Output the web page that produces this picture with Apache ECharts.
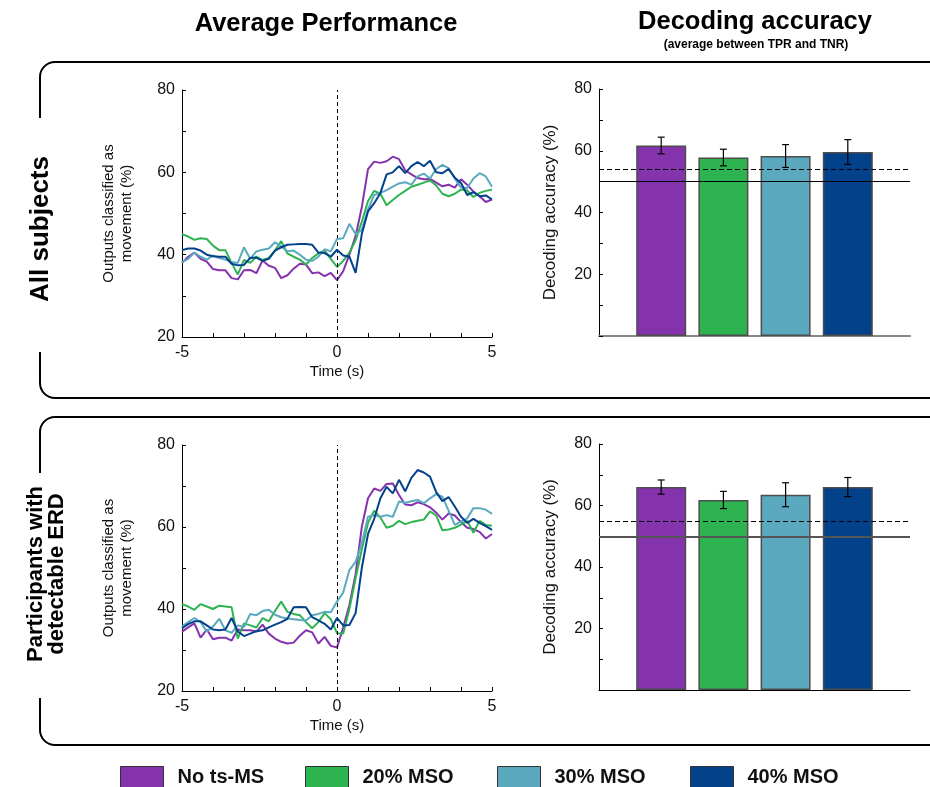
<!DOCTYPE html>
<html>
<head>
<meta charset="utf-8">
<title>Average performance and decoding accuracy</title>
<script src="https://cdn.jsdelivr.net/npm/echarts@6/dist/echarts.min.js"></script>
<style>
  html, body { margin: 0; padding: 0; background: #fff; }
  #chart { width: 930px; height: 787px; }
</style>
</head>
<body>
<div id="chart"></div>
<script>
// ---- data ----------------------------------------------------------------
const groupNames = ['No ts-MS', '20% MSO', '30% MSO', '40% MSO'];
const groupColors = ['#8532ad', '#2db34f', '#5aa9bf', '#03428b'];

// time axis of the averaged outputs (s)
const timeS = [-5, -4.8, -4.6, -4.4, -4.2, -4, -3.8, -3.6, -3.4, -3.2,
  -3, -2.8, -2.6, -2.4, -2.2, -2, -1.8, -1.6, -1.4, -1.2,
  -1, -0.8, -0.6, -0.4, -0.2, 0, 0.2, 0.4, 0.6, 0.8,
  1, 1.2, 1.4, 1.6, 1.8, 2, 2.2, 2.4, 2.6, 2.8,
  3, 3.2, 3.4, 3.6, 3.8, 4, 4.2, 4.4, 4.6, 4.8, 5];

// All subjects: outputs classified as movement (%)
const allNoTs = [38.0, 39.5, 40.5, 39.0, 38.3, 36.5, 36.2, 36.2, 34.3, 34.0,
  36.2, 36.3, 35.5, 38.6, 37.3, 36.8, 34.3, 35.0, 36.6, 37.8,
  37.6, 35.5, 35.7, 34.8, 35.6, 33.8, 36.0, 40.0, 44.5, 51.5,
  60.8, 62.6, 62.3, 62.7, 63.8, 63.2, 60.5, 59.5, 58.6, 58.3,
  58.4, 57.5, 56.6, 57.0, 56.3, 58.3, 57.0, 55.3, 54.2, 52.8, 53.4];
const allMso20 = [45.0, 44.4, 43.6, 44.0, 43.8, 42.2, 41.1, 41.1, 38.0, 35.2,
  38.7, 38.0, 39.5, 38.7, 39.2, 41.0, 43.3, 40.3, 39.5, 38.8,
  37.6, 39.2, 40.3, 41.0, 39.0, 37.0, 38.5, 40.5, 43.5, 48.0,
  53.0, 55.5, 54.8, 52.0, 53.3, 54.5, 55.5, 56.5, 57.0, 57.5,
  58.0, 56.8, 54.8, 54.2, 54.8, 55.8, 55.6, 54.0, 55.0, 55.5, 55.8];
const allMso30 = [38.2, 39.0, 40.5, 39.5, 38.8, 39.8, 39.2, 38.8, 38.2, 38.0,
  41.8, 39.0, 40.8, 41.2, 41.5, 43.0, 42.0, 40.8, 41.0, 40.0,
  38.8, 38.5, 39.5, 41.3, 40.8, 43.8, 44.0, 47.5, 45.0, 46.0,
  51.0, 54.5, 55.0, 55.7, 56.5, 57.3, 57.6, 57.0, 59.0, 59.7,
  58.5, 60.8, 61.8, 61.0, 58.5, 56.3, 56.2, 58.5, 59.8, 59.0, 56.5];
const allMso40 = [41.1, 41.5, 41.5, 41.0, 40.0, 39.6, 39.5, 39.5, 37.8, 37.4,
  37.5, 39.2, 39.3, 38.5, 39.0, 41.0, 41.8, 42.4, 42.5, 42.6,
  42.6, 42.4, 40.5, 40.4, 39.5, 41.2, 39.8, 39.5, 35.6, 45.0,
  50.5, 52.5, 55.0, 59.5, 60.0, 61.5, 59.8, 61.5, 62.5, 61.5,
  62.8, 60.0, 59.8, 60.8, 58.7, 57.4, 54.5, 55.2, 54.2, 54.4, 53.4];

// Participants with detectable ERD: outputs classified as movement (%)
const erdNoTs = [34.5, 35.5, 36.5, 33.0, 35.0, 32.6, 33.0, 33.0, 32.3, 35.0,
  34.8, 34.8, 34.5, 36.2, 34.0, 32.8, 32.0, 31.6, 31.8, 33.5,
  34.8, 34.3, 31.6, 33.2, 31.0, 30.6, 35.5, 41.0, 48.5, 60.0,
  67.0, 69.4, 68.8, 70.5, 70.6, 67.8, 65.5, 65.3, 66.0, 65.6,
  64.8, 63.5, 61.8, 63.3, 62.8, 61.2, 59.8, 59.5, 58.8, 57.2, 58.3];
const erdMso20 = [41.2, 40.6, 39.8, 41.2, 40.6, 40.0, 40.8, 40.6, 40.4, 32.8,
  36.5, 36.0, 35.5, 37.8, 37.0, 39.5, 41.8, 39.3, 38.8, 38.5,
  36.8, 35.3, 36.8, 39.0, 37.5, 34.1, 34.0, 40.0, 47.5, 54.5,
  61.0, 64.0, 62.3, 59.8, 60.3, 61.5, 60.7, 61.2, 61.5, 61.8,
  63.8, 62.8, 59.2, 59.4, 59.8, 60.6, 61.5, 58.6, 61.5, 60.5, 60.3];
const erdMso30 = [35.7, 36.8, 37.8, 36.8, 34.5, 35.7, 37.6, 34.8, 34.2, 36.0,
  35.6, 38.8, 38.5, 39.5, 39.8, 38.6, 38.0, 37.7, 37.5, 37.3,
  37.2, 38.5, 38.8, 39.3, 39.2, 41.8, 44.0, 49.5, 51.5, 56.0,
  62.5, 62.9, 62.5, 62.9, 62.5, 66.2, 65.9, 66.3, 66.6, 65.8,
  67.0, 68.0, 67.4, 64.0, 60.5, 61.3, 62.1, 64.6, 64.6, 64.2, 63.2];
const erdMso40 = [35.3, 36.3, 37.0, 37.0, 36.0, 35.0, 34.8, 35.0, 37.8, 34.5,
  33.4, 34.0, 34.6, 34.8, 35.5, 36.2, 36.8, 37.6, 40.4, 40.5,
  40.4, 38.0, 37.2, 36.4, 35.0, 37.8, 36.0, 36.1, 39.0, 50.0,
  58.3, 62.0, 67.0, 69.8, 68.2, 71.5, 68.7, 72.0, 73.9, 73.3,
  72.3, 68.5, 66.3, 67.3, 65.0, 62.5, 61.0, 62.0, 61.0, 60.2, 59.3];

// Decoding accuracy (%): mean and error per condition
const barPositions = [1, 2, 3, 4];
const allAccMean = [61.7, 57.8, 58.3, 59.6];
const allAccErr = [2.7, 2.7, 3.7, 4.0];
const erdAccMean = [66.0, 61.8, 63.5, 66.0];
const erdAccErr = [2.3, 2.8, 3.9, 3.1];
const allChance = 50, allThreshold = 54;
const erdChance = 50, erdThreshold = 55;

// tick labels
const timeTickLabels = [-5, 0, 5];
const outputTickLabels = [20, 40, 60, 80];
const accTickLabels = [20, 40, 60, 80];

// ---- helpers ---------------------------------------------------------------
const FONT = "'Liberation Sans', Arial, sans-serif";
const INK = '#111';

function timeSeries(values, gridIdx, colorIdx, withZeroLine) {
  const s = {
    type: 'line',
    name: groupNames[colorIdx],
    xAxisIndex: gridIdx, yAxisIndex: gridIdx,
    data: timeS.map((t, i) => [t, values[i]]),
    showSymbol: false,
    color: groupColors[colorIdx],
    itemStyle: { color: groupColors[colorIdx] },
    lineStyle: { width: 2, color: groupColors[colorIdx] },
    z: 3 + colorIdx
  };
  if (withZeroLine) {
    s.markLine = {
      silent: true, symbol: 'none', animation: false,
      label: { show: false },
      lineStyle: { color: '#000', type: [4, 3], width: 1 },
      data: [{ xAxis: 0 }]
    };
  }
  return s;
}

function barSeries(means, gridIdx, chance, threshold, chanceStyle) {
  return {
    type: 'bar',
    name: 'accuracy-' + gridIdx,
    xAxisIndex: gridIdx, yAxisIndex: gridIdx,
    barWidth: 50,
    data: barPositions.map((x, i) => ({
      value: [x, means[i]],
      itemStyle: { color: groupColors[i] }
    })),
    itemStyle: { borderColor: '#4d4d4d', borderWidth: 1.5 },
    markLine: {
      silent: true, symbol: 'none', animation: false,
      label: { show: false },
      data: [
        { yAxis: chance, lineStyle: chanceStyle },
        { yAxis: threshold, lineStyle: { color: '#000', type: [5, 3], width: 1 } }
      ]
    },
    z: 2
  };
}

function errorSeries(means, errs, gridIdx) {
  return {
    type: 'custom',
    name: 'error-' + gridIdx,
    xAxisIndex: gridIdx, yAxisIndex: gridIdx,
    data: barPositions.map((x, i) => [x, means[i] - errs[i], means[i] + errs[i]]),
    encode: { x: 0, y: [1, 2] },
    z: 10,
    renderItem: function (params, api) {
      const x = api.value(0);
      const lo = api.coord([x, api.value(1)]);
      const hi = api.coord([x, api.value(2)]);
      const h = 3.5;
      const st = { stroke: '#000', lineWidth: 1.2 };
      return {
        type: 'group',
        children: [
          { type: 'line', shape: { x1: lo[0], y1: lo[1], x2: hi[0], y2: hi[1] }, style: st },
          { type: 'line', shape: { x1: lo[0] - h, y1: lo[1], x2: lo[0] + h, y2: lo[1] }, style: st },
          { type: 'line', shape: { x1: hi[0] - h, y1: hi[1], x2: hi[0] + h, y2: hi[1] }, style: st }
        ]
      };
    }
  };
}

function timeXAxis(gridIdx) {
  return {
    type: 'value', gridIndex: gridIdx, min: -5, max: 5, interval: 1,
    name: 'Time (s)', nameLocation: 'middle', nameGap: 27,
    nameTextStyle: { fontFamily: FONT, fontSize: 15, color: INK },
    axisLine: { onZero: false, lineStyle: { color: '#000', width: 1 } },
    axisTick: { inside: true, length: 4, lineStyle: { color: '#000' } },
    axisLabel: {
      fontFamily: FONT, fontSize: 16, color: INK, margin: 8,
      showMinLabel: true, showMaxLabel: true,
      formatter: v => (timeTickLabels.indexOf(v) >= 0 ? String(v) : '')
    },
    splitLine: { show: false }
  };
}

function outputYAxis(gridIdx) {
  return {
    type: 'value', gridIndex: gridIdx, min: 20, max: 80, interval: 10,
    name: 'Outputs classified as\nmovement (%)', nameLocation: 'middle',
    nameRotate: 90, nameGap: 46,
    nameTextStyle: { fontFamily: FONT, fontSize: 15, lineHeight: 18, color: INK },
    axisLine: { show: true, onZero: false, lineStyle: { color: '#000', width: 1 } },
    axisTick: { show: true, inside: true, length: 4, lineStyle: { color: '#000' } },
    axisLabel: {
      fontFamily: FONT, fontSize: 16, color: INK, margin: 7,
      formatter: v => (outputTickLabels.indexOf(v) >= 0 ? String(v) : '')
    },
    splitLine: { show: false }
  };
}

function barXAxis(gridIdx, lineColor, lineWidth) {
  return {
    type: 'value', gridIndex: gridIdx, min: 0, max: 5, interval: 1,
    axisLine: { onZero: false, lineStyle: { color: lineColor, width: lineWidth } },
    axisTick: { inside: true, length: 4, customValues: barPositions, lineStyle: { color: '#000' } },
    axisLabel: { show: false },
    splitLine: { show: false }
  };
}

function accYAxis(gridIdx) {
  return {
    type: 'value', gridIndex: gridIdx, min: 0, max: 80, interval: 10,
    name: 'Decoding accuracy (%)', nameLocation: 'middle',
    nameRotate: 90, nameGap: 40,
    nameTextStyle: { fontFamily: FONT, fontSize: 17, color: INK },
    axisLine: { show: true, onZero: false, lineStyle: { color: '#000', width: 1 } },
    axisTick: { show: true, inside: true, length: 4, lineStyle: { color: '#000' } },
    axisLabel: {
      fontFamily: FONT, fontSize: 16, color: INK, margin: 7,
      formatter: v => (accTickLabels.indexOf(v) >= 0 ? String(v) : '')
    },
    splitLine: { show: false }
  };
}

// rounded bracket framing each row, open on the left where the row label sits
function bracket(top, bottom, gapTop, gapBottom) {
  const x = 40, r = 15, right = 932;
  const st = { stroke: '#000', lineWidth: 2, fill: null };
  return [
    { type: 'line', silent: true, shape: { x1: right, y1: top, x2: x + r, y2: top }, style: st },
    { type: 'arc', silent: true,
      shape: { cx: x + r, cy: top + r, r: r, startAngle: Math.PI, endAngle: Math.PI * 1.5, clockwise: true },
      style: st },
    { type: 'line', silent: true, shape: { x1: x, y1: top + r, x2: x, y2: gapTop }, style: st },
    { type: 'line', silent: true, shape: { x1: x, y1: gapBottom, x2: x, y2: bottom - r }, style: st },
    { type: 'arc', silent: true,
      shape: { cx: x + r, cy: bottom - r, r: r, startAngle: Math.PI * 0.5, endAngle: Math.PI, clockwise: true },
      style: st },
    { type: 'line', silent: true, shape: { x1: x + r, y1: bottom, x2: right, y2: bottom }, style: st }
  ];
}

function legendFor(i, left) {
  return {
    data: [{ name: groupNames[i], icon: 'rect' }],
    left: left, top: 761,
    itemWidth: 43, itemHeight: 22,
    itemStyle: { borderColor: '#333', borderWidth: 1 },
    selectedMode: false,
    textStyle: { fontFamily: FONT, fontSize: 20, fontWeight: 'bold', color: INK, padding: [0, 0, 0, 9] }
  };
}

// ---- chart -----------------------------------------------------------------
const chart = echarts.init(document.getElementById('chart'), null, { renderer: 'canvas' });

const option = {
  animation: false,
  backgroundColor: '#fff',
  grid: [
    { left: 182, top: 90, width: 310, height: 247 },   // all subjects – time course
    { left: 182, top: 445, width: 310, height: 246 },  // ERD – time course
    { left: 599, top: 89, width: 311, height: 247 },   // all subjects – accuracy
    { left: 599, top: 444, width: 311, height: 246 }   // ERD – accuracy
  ],
  xAxis: [timeXAxis(0), timeXAxis(1), barXAxis(2, '#888', 2), barXAxis(3, '#000', 1)],
  yAxis: [outputYAxis(0), outputYAxis(1), accYAxis(2), accYAxis(3)],
  legend: [legendFor(0, 115), legendFor(1, 300), legendFor(2, 492), legendFor(3, 685)],
  series: [
    timeSeries(allNoTs, 0, 0, true),
    timeSeries(allMso20, 0, 1, false),
    timeSeries(allMso30, 0, 2, false),
    timeSeries(allMso40, 0, 3, false),
    timeSeries(erdNoTs, 1, 0, true),
    timeSeries(erdMso20, 1, 1, false),
    timeSeries(erdMso30, 1, 2, false),
    timeSeries(erdMso40, 1, 3, false),
    barSeries(allAccMean, 2, allChance, allThreshold, { color: '#000', type: 'solid', width: 1 }),
    errorSeries(allAccMean, allAccErr, 2),
    barSeries(erdAccMean, 3, erdChance, erdThreshold, { color: '#555', type: 'solid', width: 1.8 }),
    errorSeries(erdAccMean, erdAccErr, 3)
  ],
  graphic: [
    { type: 'text', x: 326, y: 24, silent: true,
      style: { text: 'Average Performance', font: `bold 25.5px ${FONT}`, fill: '#000',
        textAlign: 'center', textVerticalAlign: 'middle' } },
    { type: 'text', x: 755, y: 22, silent: true,
      style: { text: 'Decoding accuracy', font: `bold 25.5px ${FONT}`, fill: '#000',
        textAlign: 'center', textVerticalAlign: 'middle' } },
    { type: 'text', x: 756, y: 45, silent: true,
      style: { text: '(average between TPR and TNR)', font: `bold 12px ${FONT}`, fill: '#000',
        textAlign: 'center', textVerticalAlign: 'middle' } },
    { type: 'text', x: 41, y: 229, rotation: Math.PI / 2, silent: true,
      style: { text: 'All subjects', font: `bold 26px ${FONT}`, fill: '#000',
        textAlign: 'center', textVerticalAlign: 'middle' } },
    { type: 'text', x: 46, y: 574, rotation: Math.PI / 2, silent: true,
      style: { text: 'Participants with\ndetectable ERD', font: `bold 22px ${FONT}`, fill: '#000',
        lineHeight: 21, textAlign: 'center', textVerticalAlign: 'middle' } },
    ...bracket(62, 398, 118, 352),
    ...bracket(417, 745, 473, 698)
  ]
};

chart.setOption(option);
</script>
</body>
</html>
